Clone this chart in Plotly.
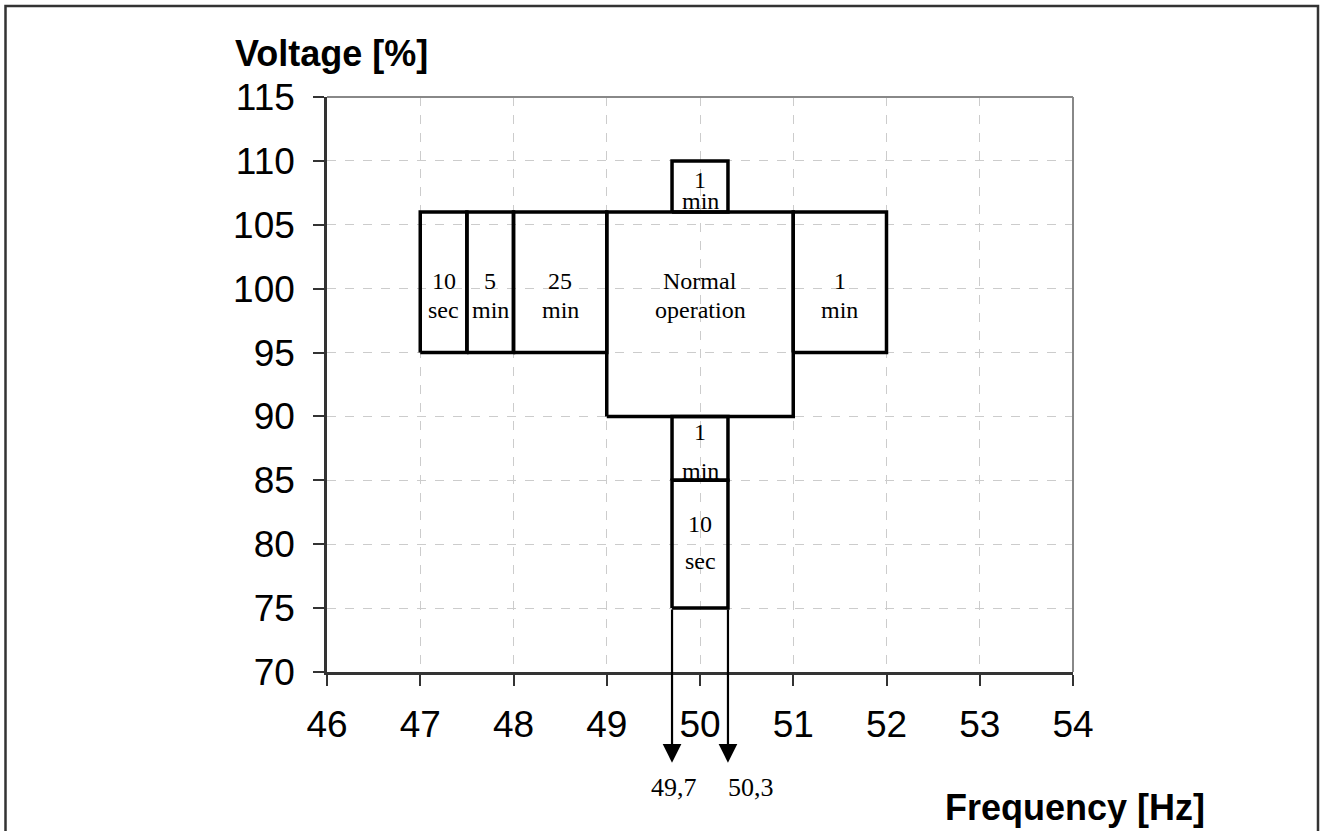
import plotly.graph_objects as go

# ---- data ----
x_ticks = [46, 47, 48, 49, 50, 51, 52, 53, 54]
y_ticks = [70, 75, 80, 85, 90, 95, 100, 105, 110, 115]

# rectangles: (f_low, f_high, v_low, v_high)
box_f_low = [47.0, 47.5, 48.0, 49.0, 51.0, 49.7, 49.7, 49.7]
box_f_high = [47.5, 48.0, 49.0, 51.0, 52.0, 50.3, 50.3, 50.3]
box_v_low = [95, 95, 95, 90, 95, 106, 85, 75]
box_v_high = [106, 106, 106, 106, 106, 110, 90, 85]

# label lines: (text, f, v)
label_text = ["10", "sec", "5", "min", "25", "min", "Normal", "operation",
              "1", "min", "1", "min", "1", "min", "10", "sec"]
label_f = [47.25, 47.25, 47.75, 47.75, 48.5, 48.5, 50.0, 50.0,
           51.5, 51.5, 50.0, 50.0, 50.0, 50.0, 50.0, 50.0]
label_v = [100.6, 98.3, 100.6, 98.3, 100.6, 98.3, 100.6, 98.3,
           100.6, 98.3, 108.5, 106.85, 88.75, 85.7, 81.6, 78.65]

arrow_f = [49.7, 50.3]
arrow_labels = ["49,7", "50,3"]
arrow_v_start = 75
arrow_v_end = 62.9
arrow_label_v = 61.0

fig = go.Figure()

for f0, f1, v0, v1 in zip(box_f_low, box_f_high, box_v_low, box_v_high):
    fig.add_trace(go.Scatter(
        x=[f0, f1, f1, f0, f0], y=[v0, v0, v1, v1, v0],
        mode="lines", line=dict(color="black", width=3.5),
        hoverinfo="skip", showlegend=False, cliponaxis=False))

for t, f, v in zip(label_text, label_f, label_v):
    fig.add_annotation(x=f, y=v, text=t, showarrow=False,
                       font=dict(family="Liberation Serif, Times New Roman", size=24, color="black"),
                       xanchor="center", yanchor="middle")

Y0, Y1 = 70, 115
for f, lab, anchor in zip(arrow_f, arrow_labels, ["center", "left"]):
    fig.add_annotation(x=f, y=arrow_v_end, ax=f, ay=arrow_v_start,
                       xref="x", yref="y", axref="x", ayref="y",
                       text="", showarrow=True, arrowhead=2, arrowsize=1.7,
                       arrowwidth=2.2, arrowcolor="black")
    fig.add_annotation(x=f, xref="x", yref="paper", y=(arrow_label_v - Y0) / (Y1 - Y0),
                       text=lab, showarrow=False,
                       xanchor=anchor, yanchor="middle", xshift=-2 if anchor == "left" else 2,
                       font=dict(family="Liberation Serif, Times New Roman", size=26, color="black"))

# axis titles
fig.add_annotation(xref="paper", yref="paper", x=0.0067, y=1.0765, text="<b>Voltage [%]</b>",
                   showarrow=False, xanchor="center", yanchor="middle",
                   font=dict(family="Liberation Sans, Arial", size=36, color="black"))
fig.add_annotation(xref="paper", yref="paper", x=1.0027, y=-0.2365, text="<b>Frequency [Hz]</b>",
                   showarrow=False, xanchor="center", yanchor="middle",
                   font=dict(family="Liberation Sans, Arial", size=36, color="black"))

W, H = 1326, 831
L, R, T, B = 327, 1073, 97, 672
pw, ph = R - L, B - T
def px(x):
    return (x - L) / pw
def py(y):
    return (B - y) / ph

# outer border
fig.add_shape(type="rect", xref="paper", yref="paper",
              x0=px(5.5), x1=px(1318), y0=py(840), y1=py(6),
              line=dict(color="#333333", width=2.5), layer="above")
# top / right plot-area frame (gray)
fig.add_shape(type="line", xref="paper", yref="paper", x0=0, x1=1, y0=1, y1=1,
              line=dict(color="#888888", width=2))
fig.add_shape(type="line", xref="paper", yref="paper", x0=1, x1=1, y0=0, y1=1,
              line=dict(color="#888888", width=2))

axis_common = dict(
    showgrid=True, gridcolor="#cccccc", griddash="dash", gridwidth=1,
    zeroline=False, showline=True, linecolor="#333333", linewidth=2.5,
    ticks="outside", ticklen=11, tickcolor="#333333", tickwidth=1.5,
    tickfont=dict(family="Liberation Sans, Arial", size=37, color="black"),
)

fig.update_xaxes(range=[46, 54], tickvals=x_ticks, ticktext=[str(v) for v in x_ticks],
                 ticklabelstandoff=7, **axis_common)
fig.update_yaxes(range=[Y0, Y1], tickvals=y_ticks, ticktext=[str(v) for v in y_ticks],
                 ticklabelstandoff=11, **axis_common)

fig.update_layout(
    width=W, height=H,
    margin=dict(l=L, r=W - R, t=T, b=H - B, pad=0),
    plot_bgcolor="white", paper_bgcolor="white",
    showlegend=False,
)

fig.write_html("out.html", config={"displayModeBar": False},
               post_script="document.body.style.margin='0';")
